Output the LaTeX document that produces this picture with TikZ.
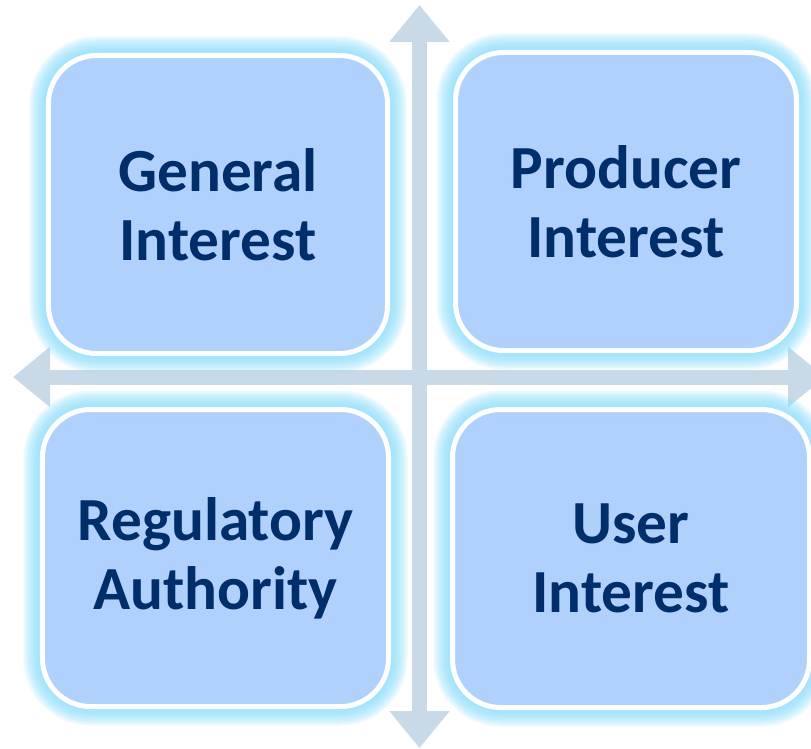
\documentclass[tikz,border=0pt]{standalone}
\usepackage{fontspec}
\setmainfont{Carlito}
\usepackage{tikz}
\usetikzlibrary{arrows.meta}

\definecolor{boxblue}{RGB}{176,209,252}
\definecolor{textblue}{RGB}{0,46,107}
\definecolor{axisgray}{RGB}{200,218,232}
\definecolor{glowcyan}{RGB}{130,218,250}

\tikzset{
  quad/.style={draw=white, line width=5bp, fill=boxblue, rounded corners=48bp,
    text=textblue, align=center, font=\fontsize{61.5}{69}\selectfont\bfseries,
    preaction={draw=glowcyan, line width=38bp, opacity=0.15},
    preaction={draw=glowcyan, line width=34bp, opacity=0.15},
    preaction={draw=glowcyan, line width=30bp, opacity=0.15},
    preaction={draw=glowcyan, line width=26bp, opacity=0.15},
    preaction={draw=glowcyan, line width=22bp, opacity=0.15},
    preaction={draw=glowcyan, line width=18bp, opacity=0.15},
    preaction={draw=glowcyan, line width=14bp, opacity=0.15},
    preaction={draw=glowcyan, line width=10bp, opacity=0.15}},
  axis/.style={draw=axisgray, line width=15bp, {Triangle[width=58bp,length=37bp]}-{Triangle[width=58bp,length=37bp]}}
}

\begin{document}
\begin{tikzpicture}[x=1bp, y=-1bp]
   \useasboundingbox (0,0) rectangle (811,749);

   \coordinate (N) at (419.5, 5);
   \coordinate (S) at (419.5, 748);
   \coordinate (W) at (13, 377);
   \coordinate (E) at (825, 377);

   \draw[axis] (W) -- (E);
   \draw[axis] (N) -- (S);

   \node[quad, minimum width=339bp, minimum height=298bp] (gen) at (218, 204.5) {General\\Interest};
   \node[quad, minimum width=341bp, minimum height=298bp] (prod) at (626, 201.5) {Producer\\Interest};
   \node[quad, minimum width=346bp, minimum height=297bp] (reg) at (215.5, 558) {Regulatory\\Authority};
   \node[quad, minimum width=357bp, minimum height=298bp] (user) at (631, 558.5) {User\\Interest};
\end{tikzpicture}
\end{document}
